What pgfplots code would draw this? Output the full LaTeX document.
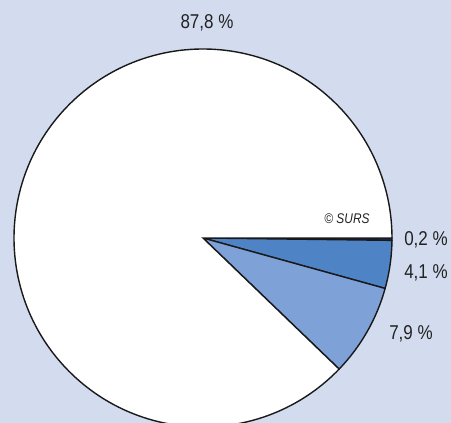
\documentclass[border=0pt]{standalone}
\usepackage{pgfplots}
\usepackage{pgfplotstable}
\pgfplotsset{compat=1.18}
\usepackage{fontspec}
\setmainfont{Liberation Sans}[FakeStretch=0.85]
\definecolor{bg}{HTML}{D3DCEF}
\definecolor{cA}{HTML}{1E3766}
\definecolor{cB}{HTML}{4E83C5}
\definecolor{cC}{HTML}{7EA1D8}
\definecolor{cD}{HTML}{FFFFFF}
\definecolor{txt}{HTML}{222222}
\pgfplotstableread{
value color
0.2 cA
4.1 cB
7.9 cC
87.8 cD
}\piedata
\begin{document}
\begin{tikzpicture}
\begin{axis}[
  scale only axis, width=451pt, height=423pt,
  xmin=0, xmax=451, ymin=0, ymax=423,
  axis lines=none, ticks=none,
  axis background/.style={fill=bg},
  clip=true,
]
\pgfmathsetmacro\startang{0}
\pgfplotstablegetrowsof{\piedata}
\pgfmathtruncatemacro\lastrow{\pgfplotsretval-1}
\pgfplotsforeachungrouped \i in {0,...,\lastrow}{
  \pgfplotstablegetelem{\i}{value}\of{\piedata}\let\val\pgfplotsretval
  \pgfplotstablegetelem{\i}{color}\of{\piedata}\let\col\pgfplotsretval
  \pgfmathsetmacro\endang{\startang-3.6*\val}
  \edef\temp{\noexpand\filldraw[fill=\col, draw=black!90, line width=1.4pt, line join=miter]
    (axis cs:203,185) -- ++(\startang:189pt) arc[start angle=\startang, end angle=\endang, radius=189pt] -- cycle;}
  \temp
  \global\let\startang\endang
}
\node[font=\fontsize{20}{24}\selectfont, text=txt] at (axis cs:207,400) {87,8 \%};
\node[font=\fontsize{20}{24}\selectfont, text=txt] at (axis cs:426,183) {0,2 \%};
\node[font=\fontsize{20}{24}\selectfont, text=txt] at (axis cs:426,150) {4,1 \%};
\node[font=\fontsize{20}{24}\selectfont, text=txt] at (axis cs:411,89) {7,9 \%};
\node[font=\fontsize{14}{16}\selectfont\itshape, text=txt] at (axis cs:347,204) {© SURS};
\end{axis}
\end{tikzpicture}
\end{document}
